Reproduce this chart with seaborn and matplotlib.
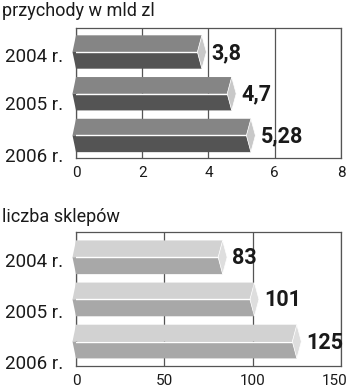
import matplotlib
matplotlib.use("Agg")
import matplotlib.pyplot as plt
from matplotlib.patches import Polygon
import matplotlib.transforms as mtransforms
import seaborn as sns
import pandas as pd

years = ["2004 r.", "2005 r.", "2006 r."]
revenue = [3.8, 4.7, 5.28]
revenue_labels = ["3,8", "4,7", "5,28"]
shops = [83, 101, 125]
shops_labels = ["83", "101", "125"]
rev_ticks = [0, 2, 4, 6, 8]
shop_ticks = [0, 50, 100, 150]

sns.set_theme(style="white")
plt.rcParams["font.family"] = ["Roboto", "DejaVu Sans"]

W, H = 350, 387
fig = plt.figure(figsize=(W / 100, H / 100), dpi=100)


def add_ax(left, right, top, bottom):
    return fig.add_axes([left / W, 1 - bottom / H, (right - left) / W, (bottom - top) / H])


def draw(ax, values, labels, ticks, ylim, ylab_pos, top_c, bot_c, cap_c, title, title_y,
         last_shift):
    df = pd.DataFrame({"year": years, "value": values})
    sns.barplot(data=df, x="value", y="year", color=bot_c, width=0.8, ax=ax,
                orient="h", zorder=3)
    ax.set_xlim(ticks[0], ticks[-1])
    ax.set_ylim(*ylim)
    ax.set_xticks(ticks)
    ax.set_xticklabels([str(t) for t in ticks])
    ax.set_yticks(ylab_pos)
    ax.set_yticklabels(years)
    ax.set_xlabel("")
    ax.set_ylabel("")
    bbox = ax.get_position()
    px_w = bbox.width * W
    dpx = (ticks[-1] - ticks[0]) / px_w
    c = 4.5 * dpx
    cl = 3.5 * dpx
    for p, lab in zip(list(ax.patches), labels):
        x0 = p.get_x()
        w = p.get_width()
        y0 = p.get_y()
        h = p.get_height()
        xe = x0 + w
        yt, yb = y0, y0 + h
        ym = y0 + h / 2
        p.set_visible(False)
        topf = Polygon([(x0, yt), (xe, yt), (xe - c, ym), (x0 - cl, ym)],
                       closed=True, fc=top_c, ec="none", zorder=3, clip_on=False)
        botf = Polygon([(x0 - cl, ym), (xe - c, ym), (xe, yb), (x0, yb)],
                       closed=True, fc=bot_c, ec="none", zorder=3, clip_on=False)
        cap = Polygon([(xe, yt), (xe + c, ym), (xe, yb), (xe - c, ym)],
                      closed=True, fc=cap_c, ec="white", lw=0.5, zorder=4, clip_on=False)
        ax.add_patch(topf)
        ax.add_patch(botf)
        ax.add_patch(cap)
        ax.plot([x0 - cl, xe - c], [ym, ym], color="white", lw=1.0, zorder=4,
                solid_capstyle="butt")
        ax.annotate(lab, xy=(xe + c, ym), xytext=(5, -1), textcoords="offset pixels",
                    ha="left", va="center", fontsize=15.5, fontweight="bold",
                    color="#1a1a1a", zorder=5)
    ax.grid(axis="x", color="#555555", lw=0.9, zorder=0)
    ax.grid(axis="y", visible=False)
    for s in ax.spines.values():
        s.set_visible(True)
        s.set_color("#555555")
        s.set_linewidth(0.9)
    ax.tick_params(axis="x", length=0, pad=6, labelsize=11, colors="#1a1a1a")
    ax.tick_params(axis="y", length=0, pad=9, labelsize=13.5, colors="#1a1a1a")
    if last_shift:
        lbl = ax.get_xticklabels()[-1]
        lbl.set_transform(lbl.get_transform() + mtransforms.ScaledTranslation(
            last_shift / 100, 0, fig.dpi_scale_trans))
    ax.set_facecolor("white")
    fig.text(2 / W, 1 - title_y / H, title, ha="left", va="center", fontsize=13,
             color="#1a1a1a")


ax1 = add_ax(76, 341, 28, 158)
draw(ax1, revenue, revenue_labels, rev_ticks, (2.54, -0.575), [0.07, 1.22, 2.47],
     "#858585", "#545454", "#c8c8c8", "przychody w mld zl", 11, 0)

ax2 = add_ax(76, 341, 232, 366)
draw(ax2, shops, shops_labels, shop_ticks, (2.58, -0.6), [0.06, 1.27, 2.49],
     "#d2d2d2", "#a8a8a8", "#dedede", "liczba sklepów", 217, -6)

fig.savefig("out.png", dpi=100, facecolor="white")
